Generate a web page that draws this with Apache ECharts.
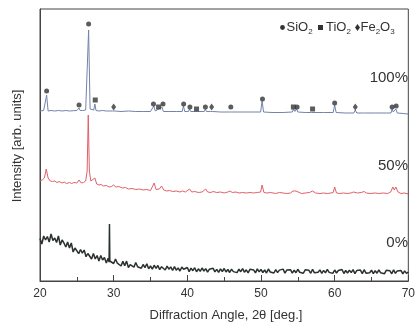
<!DOCTYPE html>
<html><head><meta charset="utf-8">
<script src="https://cdn.jsdelivr.net/npm/echarts@6/dist/echarts.min.js"></script>
<style>html,body{margin:0;padding:0;background:#fff}#c{width:418px;height:326px}</style>
</head><body><div id="c"></div>
<script>
// XRD traces: [2theta (deg), intensity (arb. units)]
const blue100 = [[20,170],[20.5,170.5],[20.7,171],[20.9,186],[21.1,170],[21.5,170.5],[22,170],[22.5,170.5],[23,170],[23.5,170.5],[24,170],[24.5,170.3],[25.0,170.5],[25.15,171],[25.3,173],[25.45,170.5],[25.8,170.5],[26.2,171],[26.4,172],[26.6,251],[26.8,172],[27.0,171],[27.3,171],[27.45,177],[27.6,170.5],[28,170],[28.5,170.5],[29,170],[29.5,170],[29.85,170],[30.0,172],[30.15,170],[31,169.5],[32,170],[33,169.5],[34,169.5],[35,169.5],[35.25,170],[35.45,175],[35.65,170],[35.9,170],[36.1,172],[36.3,170],[36.55,174],[36.75,169.5],[37.5,169.5],[38.5,169.5],[39.3,169.5],[39.47,175],[39.65,169.5],[40.15,169.5],[40.3,172],[40.45,169.5],[41.1,169.5],[41.25,171],[41.4,169.5],[42.3,169.5],[42.45,172],[42.6,169.5],[43.15,169.5],[43.3,171],[43.45,169.5],[44.5,169],[45.7,169],[45.85,171],[46.0,169],[47,169],[48,169],[49,169],[49.95,169],[50.15,180],[50.35,169],[51.5,168.5],[53,168.5],[54.25,169],[54.4,172],[54.6,169.5],[54.85,172],[55.0,169],[56,168.5],[56.85,168.5],[57.0,170],[57.2,168.5],[58.5,168.5],[59.8,168.5],[60.0,176],[60.2,168.5],[61.5,168],[62.6,168],[62.8,171],[63.0,168],[63.9,168],[64.05,170],[64.2,168],[65.5,168],[67,168],[67.65,168],[67.8,172],[67.95,169],[68.15,169],[68.3,172],[68.5,168],[69.3,167.5],[70,167]];

const red50 = [[20,100],[20.3,101],[20.6,103],[20.85,112],[21.1,103],[21.4,100],[21.7,99.5],[22,100],[22.3,98.5],[22.6,99.5],[23,98],[23.3,99],[23.6,97.5],[24,98.5],[24.3,97.5],[24.6,98.5],[25.0,98],[25.3,101],[25.6,98],[25.9,98.5],[26.2,100],[26.4,110],[26.55,166],[26.7,110],[26.9,100],[27.15,99.5],[27.45,103],[27.7,97],[28,96],[28.3,96.5],[28.6,95],[29,95.5],[29.4,94],[29.7,94.5],[30.0,96],[30.3,94],[30.7,94.5],[31.2,93],[31.6,93.5],[32,92],[32.5,92.5],[33,91.5],[33.5,92],[34,91],[34.5,91.5],[35,90.5],[35.25,91.5],[35.5,98],[35.75,91.5],[36.0,91],[36.2,92],[36.5,95],[36.8,91],[37.2,90],[37.6,90.5],[38,89.5],[38.5,90],[39,89],[39.35,90],[39.55,92],[39.75,89],[40.0,89.5],[40.3,92],[40.6,89],[41,89.5],[41.5,88.5],[42,89],[42.25,89.5],[42.5,92],[42.75,89],[43.2,88.5],[43.5,89.5],[44,88.5],[44.5,89],[45,88],[45.5,89],[45.8,90],[46.1,88.5],[46.6,89],[47,88],[47.5,88.5],[48,88],[48.5,88.5],[49,88],[49.5,88.5],[49.95,89],[50.15,96],[50.4,88.5],[50.8,88],[51.3,88.5],[52,87.5],[52.5,88.5],[53,88],[53.5,87.5],[54,88],[54.35,90],[54.5,92],[54.75,90],[55.0,88],[55.5,87.5],[56,88],[56.6,88.5],[57.0,90],[57.4,88],[58,87.5],[58.5,88],[59,87.5],[59.5,88],[59.8,88.5],[60.0,94],[60.25,88],[60.7,87.5],[61.2,88],[61.7,87.5],[62.2,88],[62.55,89],[62.8,91],[63.1,88],[63.6,88.5],[64.0,89.5],[64.3,88],[64.8,87.5],[65.5,88],[66,87.5],[66.6,88],[67.2,87.5],[67.6,89],[67.9,94],[68.1,91],[68.3,94],[68.6,89],[69,87.5],[69.5,88],[70,87]];

const black0 = [[20,42.5],[20.25,37],[20.5,45],[20.75,41],[21,44.5],[21.25,39],[21.5,47],[21.75,40.5],[22,43],[22.25,38.5],[22.5,45],[22.75,36],[23,41],[23.25,38],[23.5,34],[23.75,39],[24,33],[24.25,38],[24.5,29],[24.75,33],[25,34],[25.25,27.3],[25.5,31.5],[25.75,27.8],[26,31],[26.25,24.3],[26.5,27.5],[26.75,27.8],[27,22],[27.25,27.5],[27.5,22],[27.75,25.5],[28,20],[28.25,25.5],[28.5,21],[28.75,23.5],[29,18],[29.25,22.8],[29.38,19],[29.43,57],[29.48,20],[29.75,22],[30,17.5],[30.25,22],[30.5,17.8],[30.75,19.4],[31,15],[31.25,19.6],[31.5,15.3],[31.75,19.9],[32,13.5],[32.25,16.3],[32.5,18],[32.75,13.8],[33,18.5],[33.25,14.3],[33.5,16],[33.75,12.8],[34,16.5],[34.25,13.4],[34.5,17.3],[34.75,12.2],[35,15],[35.25,11.9],[35.5,15.8],[35.75,12.6],[36,15.5],[36.25,11.4],[36.5,14.3],[36.75,15.1],[37,11],[37.25,14.9],[37.5,11.8],[37.75,14.1],[38,10.5],[38.25,14.4],[38.5,10.8],[38.75,13.1],[39,10],[39.25,13.9],[39.5,11.8],[39.75,10.1],[40,13.5],[40.25,9.4],[40.5,12.9],[40.75,10.3],[41,13.3],[41.25,9.2],[41.5,12.2],[41.75,9.6],[42,13],[42.25,10],[42.5,12.4],[42.75,8.9],[43,11.8],[43.25,9.8],[43.5,12.7],[43.75,9.2],[44,11.6],[44.25,8.6],[44.5,12.1],[44.75,9.5],[45,12.5],[45.25,9],[45.5,11.5],[45.75,8.5],[46,11.9],[46.25,9.4],[46.5,10.9],[46.75,8.4],[47,11.8],[47.25,9.3],[47.5,12.3],[47.75,8.8],[48,11.2],[48.25,8.2],[48.5,11.7],[48.75,9.7],[49,11.1],[49.25,8.1],[49.5,12.1],[49.75,9.1],[50,11.5],[50.25,8.5],[50.5,11],[50.75,8],[51,12],[51.25,9],[51.5,10.5],[51.75,8],[52,11.4],[52.25,8.4],[52.5,10.9],[52.75,8.9],[53,11.9],[53.25,7.9],[53.5,10.9],[53.75,9.4],[54,11.3],[54.25,7.8],[54.5,10.8],[54.75,8.3],[55,11.75],[55.25,8.75],[55.5,10.75],[55.75,7.75],[56,11.2],[56.25,9.2],[56.5,10.7],[56.75,7.7],[57,11.7],[57.25,8.2],[57.5,10.2],[57.75,8.7],[58,11.1],[58.25,7.6],[58.5,10.6],[58.75,8.1],[59,11.6],[59.25,8.6],[59.5,10.6],[59.75,7.6],[60,11],[60.25,8],[60.5,10.5],[60.75,9],[61,11.5],[61.25,7.5],[61.5,10.5],[61.75,8],[62,10.9],[62.25,8.4],[62.5,11.4],[62.75,7.4],[63,10.4],[63.25,8.4],[63.5,10.9],[63.75,7.4],[64,11.3],[64.25,7.8],[64.5,9.8],[64.75,8.3],[65,10.8],[65.25,7.3],[65.5,10.3],[65.75,7.8],[66,11.2],[66.25,8.2],[66.5,10.2],[66.75,7.2],[67,10.7],[67.25,8.7],[67.5,10.2],[67.75,7.2],[68,11.1],[68.25,7.6],[68.5,10.1],[68.75,8.1],[69,10.6],[69.25,7.1],[69.5,10.1],[69.75,7.6],[70,9]];

// phase markers [2theta, marker height]
const sio2Marks = [[20.9,190],[25.3,176],[26.6,257],[35.4,177],[36.7,177],[39.5,177],[40.35,174],[42.45,174],[45.9,174],[50.2,182],[54.9,174],[60.0,178],[67.8,174],[68.35,175]];
const tio2Marks = [[27.5,181],[36.1,174],[41.25,172],[54.4,174],[57.0,172]];
const fe2o3Marks = [[30.0,174],[43.3,174],[62.8,174]];

const xTicks = [20, 30, 40, 50, 60, 70];
const traceLabels = ['100%', '50%', '0%'];

const FONT = '"Liberation Sans", Arial, sans-serif';
const TXT = '#333';
const chart = echarts.init(document.getElementById('c'), null, {renderer: 'canvas'});

function t(x, y, text, size, extra) {
  return Object.assign({type: 'text', x: x, y: y, z: 100,
    style: Object.assign({text: text, fontSize: size, fontFamily: FONT, fill: TXT}, extra || {})});
}
const richSub = {
  m: {fontSize: 13, fontFamily: FONT, color: TXT, lineHeight: 16, verticalAlign: 'middle'},
  s: {fontSize: 8, fontFamily: FONT, color: TXT, lineHeight: 16, verticalAlign: 'bottom'}
};
function rt(x, y, text) {
  return {type: 'text', x: x, y: y, z: 100,
    style: {text: text, rich: richSub, fontFamily: FONT, fill: TXT, textVerticalAlign: 'top'}};
}

const graphics = [
  // legend
  {type: 'circle', shape: {cx: 282.5, cy: 27.5, r: 2.4}, style: {fill: '#333'}, z: 100},
  rt(286.5, 19.5, '{m|SiO}{s|2}'),
  {type: 'rect', shape: {x: 318, y: 25, width: 5, height: 5}, style: {fill: '#333'}, z: 100},
  rt(326, 19.5, '{m|TiO}{s|2}'),
  {type: 'polygon', shape: {points: [[357.5, 24], [360, 27.5], [357.5, 31], [355, 27.5]]}, style: {fill: '#333'}, z: 100},
  rt(360.5, 19.5, '{m|Fe}{s|2}{m|O}{s|3}'),
  // trace labels
  t(408, 78, traceLabels[0], 15, {textAlign: 'right', textVerticalAlign: 'middle'}),
  t(408, 166, traceLabels[1], 15, {textAlign: 'right', textVerticalAlign: 'middle'}),
  t(408, 243, traceLabels[2], 15, {textAlign: 'right', textVerticalAlign: 'middle'}),
  // axis titles
  t(226, 315, 'Diffraction Angle, 2θ [deg.]', 13, {textAlign: 'center', textVerticalAlign: 'middle'}),
  {type: 'text', x: 17, y: 146, rotation: Math.PI / 2, z: 100,
    style: {text: 'Intensity [arb. units]', fontSize: 13, fontFamily: FONT, fill: TXT, textAlign: 'center', textVerticalAlign: 'middle'}}
];

chart.setOption({
  animation: false,
  backgroundColor: '#fff',
  grid: {left: 40, right: 7, top: 9, bottom: 45, show: true, borderColor: '#444', borderWidth: 1, backgroundColor: 'transparent'},
  xAxis: {
    type: 'value', min: 20, max: 70, interval: 10,
    axisLine: {show: true, lineStyle: {color: '#444', width: 1}},
    axisTick: {show: true, inside: true, length: 6, lineStyle: {color: '#444'}},
    minorTick: {show: true, splitNumber: 2, length: 4, lineStyle: {color: '#444'}},
    splitLine: {show: false},
    axisLabel: {fontSize: 12, fontFamily: FONT, color: TXT, margin: 7,
      formatter: function (v) { return xTicks.indexOf(v) >= 0 ? String(v) : ''; }}
  },
  yAxis: {
    type: 'value', min: 0, max: 272,
    axisLine: {show: true, lineStyle: {color: '#444'}},
    axisTick: {show: false}, axisLabel: {show: false}, splitLine: {show: false}
  },
  series: [
    {type: 'line', data: black0, showSymbol: false, lineStyle: {color: '#2a322d', width: 1.5}, z: 2},
    {type: 'line', data: red50, showSymbol: false, lineStyle: {color: '#e0606a', width: 1}, z: 3},
    {type: 'line', data: blue100, showSymbol: false, lineStyle: {color: '#7383aa', width: 1}, z: 4},
    {type: 'scatter', data: sio2Marks, symbol: 'circle', symbolSize: 5, itemStyle: {color: '#333'}, z: 5},
    {type: 'scatter', data: tio2Marks, symbol: 'rect', symbolSize: 5, itemStyle: {color: '#333'}, z: 5},
    {type: 'scatter', data: fe2o3Marks, symbol: 'diamond', symbolSize: [5, 7], itemStyle: {color: '#333'}, z: 5}
  ],
  graphic: graphics
});
</script></body></html>
